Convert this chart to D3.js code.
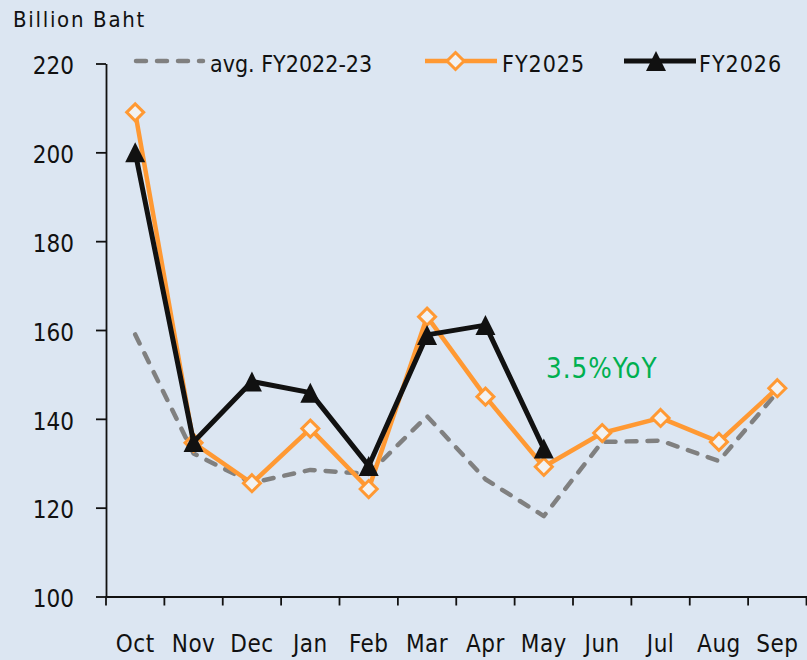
<!DOCTYPE html>
<html><head><meta charset="utf-8">
<script src="https://cdn.jsdelivr.net/npm/d3@7"></script>
<style>
html,body{margin:0;padding:0;background:#dce6f2;}
svg{display:block;font-family:"DejaVu Sans Condensed","DejaVu Sans",sans-serif;}
</style></head><body>
<svg id="chart" width="807" height="660"></svg>
<script>
// ---- data ----
const months = ["Oct","Nov","Dec","Jan","Feb","Mar","Apr","May","Jun","Jul","Aug","Sep"];
const yTicks = [100,120,140,160,180,200,220];
const avgFY2022_23 = [159.0,132.2,125.6,128.5,127.6,140.6,126.4,118.1,134.8,135.1,130.5,146.0];
const fy2025 = [209.0,134.6,125.5,137.8,124.2,163.0,145.0,129.2,136.8,140.2,134.8,146.9];
const fy2026 = [200.0,134.8,148.4,145.9,129.4,158.9,161.1,133.3];
const seriesNames = ["avg. FY2022-23","FY2025","FY2026"];
const yTitle = "Billion Baht";
const noteText = "3.5%YoY";

// ---- setup ----
const svg = d3.select("#chart");
const W = 807, H = 660;
svg.append("rect").attr("width",W).attr("height",H).attr("fill","#dce6f2");

const x = d3.scaleBand().domain(months).range([106, 806.5]).padding(0);
const y = d3.scaleLinear().domain([100,220]).range([596.5, 63.5]);
const cx = m => x(m) + x.bandwidth()/2;

const ORANGE = "#ff9933", BLACK = "#111111", GRAY = "#808080";

// y axis
const yAxis = svg.append("g").attr("transform","translate(106,0)")
  .call(d3.axisLeft(y).tickValues(yTicks).tickSize(10).tickSizeOuter(0).tickPadding(22));
yAxis.select(".domain").attr("stroke","#111").attr("stroke-width",1.8);
yAxis.selectAll(".tick line").attr("stroke","#111").attr("stroke-width",1.8);
yAxis.selectAll(".tick text").attr("font-size",24).attr("fill","#111")
  .attr("font-family","DejaVu Sans Condensed").attr("dy","0.43em");

// x axis (labels centred, tick marks at band boundaries)
const xAxis = svg.append("g").attr("transform",`translate(0,${y(100)})`)
  .call(d3.axisBottom(x).tickSize(0).tickSizeOuter(0).tickPadding(0));
xAxis.select(".domain").attr("stroke","#111").attr("stroke-width",1.8);
xAxis.selectAll(".tick text").attr("font-size",24).attr("fill","#111")
  .attr("font-family","DejaVu Sans Condensed").attr("dy",null).attr("y",55).attr("letter-spacing","0.5px");
const bounds = months.map(m => x(m)).concat([x.range()[1]]);
xAxis.selectAll("line.bt").data(bounds).join("line").attr("class","bt")
  .attr("x1",d=>d).attr("x2",d=>d).attr("y1",0).attr("y2",9)
  .attr("stroke","#111").attr("stroke-width",1.8);

// y title
svg.append("text").attr("x",13).attr("y",27).attr("font-size",22)
  .attr("letter-spacing","1.7px").attr("fill","#111").text(yTitle);

// lines
const lineGen = d3.line().x((d,i)=>cx(months[i])).y(d=>y(d));

svg.append("path").datum(avgFY2022_23).attr("d",lineGen)
  .attr("fill","none").attr("stroke",GRAY).attr("stroke-width",4.5)
  .attr("stroke-dasharray","10 11").attr("stroke-linecap","round").attr("stroke-linejoin","round");

svg.append("path").datum(fy2025).attr("d",lineGen)
  .attr("fill","none").attr("stroke",ORANGE).attr("stroke-width",4.5).attr("stroke-linejoin","round");

const diamond = r => `M0,${-r}L${r},0L0,${r}L${-r},0Z`;
const tri = (w,h) => `M0,${-h/2}L${w/2},${h/2}L${-w/2},${h/2}Z`;

svg.append("g").selectAll("path").data(fy2025).join("path")
  .attr("transform",(d,i)=>`translate(${cx(months[i])},${y(d)})`)
  .attr("d",diamond(8.5)).attr("fill","#f2f2f2").attr("stroke",ORANGE).attr("stroke-width",3);

svg.append("path").datum(fy2026).attr("d",lineGen)
  .attr("fill","none").attr("stroke",BLACK).attr("stroke-width",5).attr("stroke-linejoin","round");

svg.append("g").selectAll("path").data(fy2026).join("path")
  .attr("transform",(d,i)=>`translate(${cx(months[i])},${y(d)})`)
  .attr("d",tri(20,20)).attr("fill",BLACK);

// note
svg.append("text").attr("x",546).attr("y",378).attr("font-size",27.5)
  .attr("letter-spacing","1px").attr("fill","#00b050").text(noteText);

// legend
const lg = svg.append("g");
const ly = 61;
lg.append("line").attr("x1",136).attr("x2",203).attr("y1",ly).attr("y2",ly)
  .attr("stroke",GRAY).attr("stroke-width",4.5).attr("stroke-dasharray","10 11").attr("stroke-linecap","round");
lg.append("text").attr("x",210).attr("y",71.5).attr("font-size",23).attr("fill","#111").text(seriesNames[0]);

lg.append("line").attr("x1",425).attr("x2",497).attr("y1",ly).attr("y2",ly)
  .attr("stroke",ORANGE).attr("stroke-width",4.5);
lg.append("path").attr("transform",`translate(455.5,${ly})`).attr("d",diamond(8.5))
  .attr("fill","#f2f2f2").attr("stroke",ORANGE).attr("stroke-width",3);
lg.append("text").attr("x",502).attr("y",71.5).attr("font-size",23).attr("letter-spacing","1px").attr("fill","#111").text(seriesNames[1]);

lg.append("line").attr("x1",624).attr("x2",696).attr("y1",ly).attr("y2",ly)
  .attr("stroke",BLACK).attr("stroke-width",5);
lg.append("path").attr("transform",`translate(656,${ly})`).attr("d",tri(20,20)).attr("fill",BLACK);
lg.append("text").attr("x",699).attr("y",71.5).attr("font-size",23).attr("letter-spacing","1px").attr("fill","#111").text(seriesNames[2]);
</script>
</body></html>
